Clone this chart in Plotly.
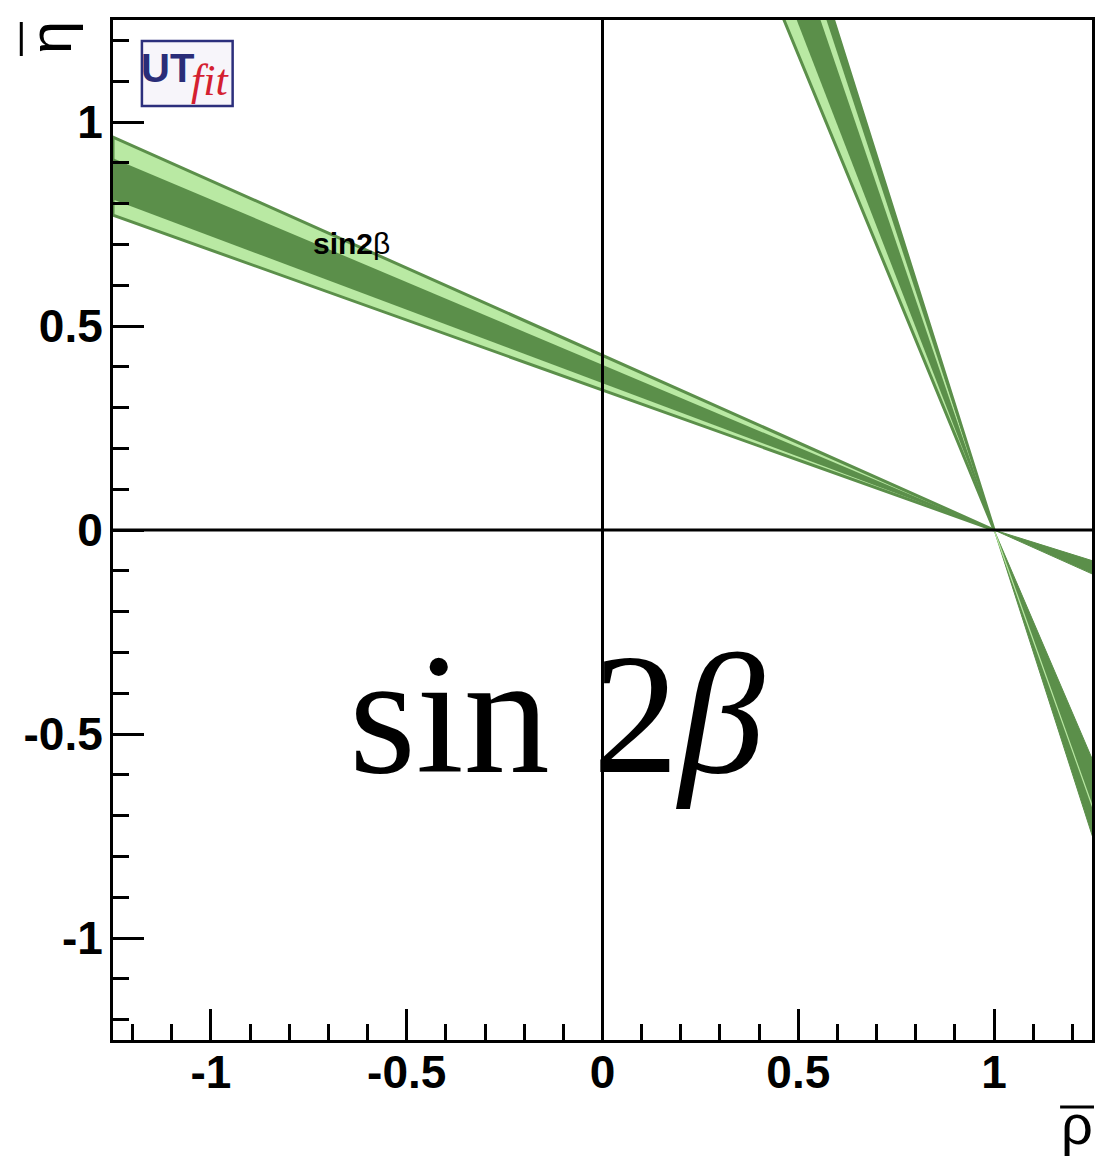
import plotly.graph_objects as go

# ---- data: band slopes k for lines eta = k * (1 - rho) through (1, 0) ----
shallow_95 = [0.343, 0.428]     # light region (with dark outline)
shallow_68 = [0.360, 0.405]     # dark region
steep_95 = [2.33, 3.05]
steep_68 = [2.48, 2.82]
steep_outer_dark = [2.92, 3.05]
steep_below_light = 2.70
shallow_below = [0.30, 0.43]
steep_below = [2.24, 2.99]

x_tickvals = [-1, -0.5, 0, 0.5, 1]
x_ticktext = ["-1", "-0.5", "0", "0.5", "1"]
y_tickvals = [-1, -0.5, 0, 0.5, 1]
y_ticktext = ["-1", "-0.5", "0", "0.5", "1"]

DARK = "#5b8f4a"
LIGHT = "#b9e9a3"

W, H = 1097, 1160
ML, MR, MT, MB = 113, 2, 20, 120
PW, PH = W - ML - MR, H - MT - MB


def px(xp):
    return (xp - ML) / PW


def py(yp):
    return (H - MB - yp) / PH


def wedge(k_lo, k_hi, rho_far):
    xs = [rho_far, 1.0, rho_far, rho_far]
    ys = [k_lo * (1 - rho_far), 0.0, k_hi * (1 - rho_far), k_lo * (1 - rho_far)]
    return xs, ys


fig = go.Figure()


def add_poly(k_lo, k_hi, rho_far, fill, line_col=None, lw=0):
    xs, ys = wedge(k_lo, k_hi, rho_far)
    fig.add_trace(go.Scatter(
        x=xs, y=ys, mode="lines", fill="toself", fillcolor=fill,
        line=dict(color=line_col or fill, width=lw), hoverinfo="skip",
        showlegend=False))


def add_line(k, rho_far, color, lw):
    fig.add_trace(go.Scatter(
        x=[1.0, rho_far], y=[0.0, k * (1 - rho_far)], mode="lines",
        line=dict(color=color, width=lw), hoverinfo="skip", showlegend=False))


# shallow band (above axis)
add_poly(shallow_95[0], shallow_95[1], -1.25, LIGHT, DARK, 3)
add_poly(shallow_68[0], shallow_68[1], -1.25, DARK)
# steep band (above axis)
add_poly(steep_95[0], steep_95[1], 0.0, LIGHT, DARK, 3)
add_poly(steep_68[0], steep_68[1], 0.0, DARK)
add_poly(steep_outer_dark[0], steep_outer_dark[1], 0.0, DARK)
# below axis
add_poly(shallow_below[0], shallow_below[1], 1.25, DARK, DARK, 1)
add_poly(steep_below[0], steep_below[1], 1.5, DARK, DARK, 1)
add_line(steep_below_light, 1.5, LIGHT, 1.2)

# zero lines
fig.add_shape(type="line", x0=0, x1=0, y0=-1.25, y1=1.25, xref="x", yref="y",
              line=dict(color="black", width=3), layer="above")
fig.add_shape(type="line", x0=-1.25, x1=1.25, y0=0, y1=0, xref="x", yref="y",
              line=dict(color="black", width=3), layer="above")

CM = dict(xanchor="center", yanchor="middle", showarrow=False)

# texts
fig.add_annotation(x=-0.64, y=0.703, xref="x", yref="y", **CM,
                   text="<b>sin2</b>β", font=dict(family="Liberation Sans", size=30, color="black"))
fig.add_annotation(x=px(558), y=py(714), xref="paper", yref="paper", **CM,
                   text="sin 2<i>β</i>", font=dict(family="Liberation Serif", size=172, color="black"))

# axis titles (eta rotated, rho at bottom right) with overbars
fig.add_annotation(x=px(50), y=py(38), xref="paper", yref="paper", **CM,
                   text="η", textangle=-90, font=dict(family="Liberation Sans", size=60, color="black"))
fig.add_shape(type="line", xref="paper", yref="paper", x0=px(21), x1=px(21), y0=py(22), y1=py(56),
              line=dict(color="black", width=3))
fig.add_annotation(x=px(1080), y=py(1124), xref="paper", yref="paper", **CM,
                   text="ρ", font=dict(family="Liberation Sans", size=56, color="black"))
fig.add_shape(type="line", xref="paper", yref="paper", x0=px(1063), x1=px(1097), y0=py(1107), y1=py(1107),
              line=dict(color="black", width=3))

# UTfit logo
fig.add_shape(type="rect", xref="paper", yref="paper", x0=px(142), x1=px(233), y0=py(106), y1=py(41),
              line=dict(color="#2c2f7c", width=2.5), fillcolor="#f7f5fa", layer="above")
fig.add_annotation(x=px(168), y=py(68), xref="paper", yref="paper", **CM,
                   text="<b>UT</b>", font=dict(family="Liberation Sans", size=40, color="#2a2d78"))
fig.add_annotation(x=px(210), y=py(80), xref="paper", yref="paper", **CM,
                   text="<i>fit</i>", font=dict(family="Liberation Serif", size=44, color="#d42030"))

axis_common = dict(
    showline=True, linewidth=3, linecolor="black", mirror=True,
    ticks="inside", ticklen=31, tickwidth=2.5, tickcolor="black",
    showgrid=False, zeroline=False,
    tickfont=dict(family="Liberation Sans", size=46, color="black", weight="bold"),
    minor=dict(tickmode="linear", tick0=0, dtick=0.1, ticks="inside", ticklen=16,
               tickwidth=2.5, tickcolor="black", showgrid=False),
)

fig.update_xaxes(range=[-1.25, 1.25], tickmode="array", tickvals=x_tickvals, ticktext=x_ticktext,
                 ticklabelstandoff=-10, **axis_common)
fig.update_yaxes(range=[-1.25, 1.25], tickmode="array", tickvals=y_tickvals, ticktext=y_ticktext,
                 ticklabelstandoff=-2, **axis_common)

fig.update_layout(width=W, height=H, margin=dict(l=ML, r=MR, t=MT, b=MB),
                  plot_bgcolor="white", paper_bgcolor="white", showlegend=False)

fig.write_html("out.html")
